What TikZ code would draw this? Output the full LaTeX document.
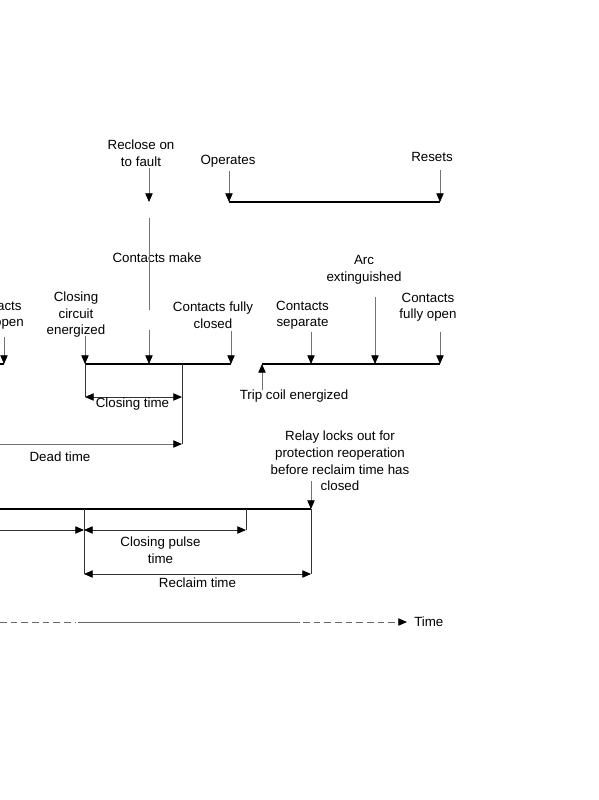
\documentclass[tikz,border=0pt]{standalone}
\usepackage{fontspec}
\setmainfont{Liberation Sans}
\usetikzlibrary{arrows.meta}
\tikzset{
  bar/.style={line width=1.5pt},
  tip/.tip={Triangle[length=6.5pt,width=5.5pt,color=black]},
  ptr/.style={draw=black!55, line width=0.6pt, -tip},
  dim/.style={draw=black!80, line width=0.6pt},
  lbl/.style={align=center, inner sep=0pt, font=\fontsize{10}{12.4}\selectfont},
}
\begin{document}
\begin{tikzpicture}[x=0.75pt, y=-0.75pt, line join=round]
  \useasboundingbox (0,0) rectangle (599,800);

  % relay timing bar
  \coordinate (op) at (229,202);
  \coordinate (rs) at (440,202);
  \draw[bar] (op) -- (rs);
  \node[lbl] (oper) at (228,161) {Operates};
  \node[lbl] (rset) at (432,157) {Resets};
  \draw[ptr] (oper.south -| op) ++(0,4) -- (op);
  \draw[ptr] (rset.south -| rs) ++(0,8) -- (rs);

  % reclose on to fault
  \coordinate (rf) at (149,202);
  \coordinate (mk1) at (149,218);
  \coordinate (mk2) at (149,310);
  \coordinate (mk3) at (149,330);
  \node[lbl] (rof) at (141,153) {Reclose on\\to fault};
  \node[lbl] (cmake) at (157,258) {Contacts make};
  \draw[ptr] (rof.south -| rf) ++(0,2) -- (rf);
  \draw[draw=black!55, line width=0.6pt] (mk1) -- (mk2);

  % closing bars
  \coordinate (b0) at (0,364);
  \coordinate (b1) at (4,364);
  \coordinate (b2) at (85,364);
  \coordinate (b3) at (149,364);
  \coordinate (b4) at (182,364);
  \coordinate (b5) at (231,364);
  \draw[bar] (b0) -- (b1);
  \draw[bar] (b2) -- (b5);
  \node[lbl] (cfo0) at (-4.7,315) {Contacts\\fully open};
  \node[lbl] (cce) at (76,315) {Closing\\circuit\\energized};
  \node[lbl] (cfc) at (213,315) {Contacts fully\\closed};
  \draw[ptr] (b1 |- 0,337) -- (b1);
  \draw[ptr] (cce.south -| b2) ++(0,-2) -- (b2);
  \draw[ptr] (mk3) -- (b3);
  \draw[ptr] (cfc.south -| b5) ++(0,3) -- (b5);

  % tripping bar
  \coordinate (t1) at (262,364);
  \coordinate (t2) at (311,364);
  \coordinate (t3) at (375,364);
  \coordinate (t4) at (440,364);
  \draw[bar] (t1) -- (t4);
  \node[lbl] (tce) at (294,396) {Trip coil energized};
  \node[lbl] (csep) at (302.5,315) {Contacts\\separate};
  \node[lbl] (arcx) at (364,270) {Arc\\extinguished};
  \node[lbl] (cfo) at (428,307) {Contacts\\fully open};
  \draw[ptr] (t1 |- tce.north) -- (t1);
  \draw[ptr] (csep.south -| t2) ++(0,2) -- (t2);
  \draw[ptr] (arcx.south -| t3) ++(0,12) -- (t3);
  \draw[ptr] (cfo.south -| t4) ++(0,10) -- (t4);

  % closing time and dead time
  \coordinate (ct1) at (85,397);
  \coordinate (ct2) at (182,397);
  \coordinate (dt0) at (0,444);
  \coordinate (dt1) at (182,444);
  \draw[dim] (b2) -- (ct1);
  \draw[dim] (b4) -- (dt1);
  \draw[dim, tip-tip] (ct1) -- (ct2);
  \draw[dim, draw=black!55, -tip] (dt0) -- (dt1);
  \node[lbl] (ctime) at (132.5,404) {Closing time};
  \node[lbl] (dtime) at (60,457) {Dead time};

  % reclaim bar
  \coordinate (r0) at (0,509);
  \coordinate (r1) at (84,509);
  \coordinate (r2) at (246,509);
  \coordinate (r3) at (311,509);
  \draw[bar] (r0) -- (r3);
  \node[lbl] (relay) at (340,461) {Relay locks out for\\protection reoperation\\before reclaim time has\\closed};
  \draw[ptr] (r3 |- 0,481) -- (r3);

  \coordinate (p0) at (0,530);
  \coordinate (p1) at (84,530);
  \coordinate (p2) at (246,530);
  \coordinate (q1) at (84,574);
  \coordinate (q2) at (311,574);
  \draw[dim] (r1) -- (q1);
  \draw[dim] (r2) -- (p2);
  \draw[dim] (r3) -- (q2);
  \draw[dim, -tip] (p0) -- (p1);
  \draw[dim, tip-tip] (p1) -- (p2);
  \draw[dim, tip-tip] (q1) -- (q2);
  \node[lbl] (cpulse) at (160.5,550) {Closing pulse\\time};
  \node[lbl] (rtime) at (197.5,583) {Reclaim time};

  % time axis
  \coordinate (a0) at (0,622);
  \coordinate (a1) at (76,622);
  \coordinate (a2) at (78,622);
  \coordinate (a3) at (300,622);
  \coordinate (a4) at (303,622);
  \coordinate (a5) at (407,622);
  \node[lbl, anchor=west] (tlbl) at (414,622) {Time};
  \draw[draw=black!60, line width=0.6pt, dash pattern=on 5pt off 3pt] (a0) -- (a1);
  \draw[draw=black!60, line width=0.6pt] (a2) -- (a3);
  \draw[draw=black!60, line width=0.6pt, dash pattern=on 5pt off 3pt, -tip] (a4) -- (a5);
\end{tikzpicture}
\end{document}
